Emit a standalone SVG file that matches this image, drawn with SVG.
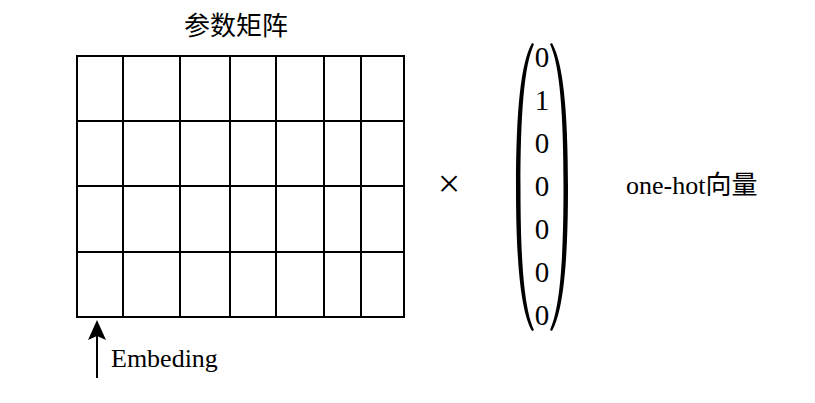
<svg xmlns="http://www.w3.org/2000/svg" width="815" height="403" viewBox="0 0 815 403">
<defs>
<style>
.t{font-family:"Liberation Serif","Noto Sans CJK SC",serif;font-size:26px;fill:#000}
.g{stroke:#000;stroke-width:2;fill:none}
.p{fill:#000;stroke:none}
</style>
<marker id="ah" viewBox="0 0 20 20" refX="18" refY="10" markerWidth="20" markerHeight="20" markerUnits="userSpaceOnUse" orient="auto">
<path d="M0,1 L20,10 L0,19 L4,10 Z" fill="#000"/>
</marker>
</defs>
<rect width="815" height="403" fill="#fff"/>
<g id="title"><text class="t" x="236" y="35" text-anchor="middle">参数矩阵</text></g>
<g id="matrix">
<rect class="g" x="77" y="56" width="327" height="261"/>
<path class="g" d="M123,56V317M180,56V317M230,56V317M276,56V317M324,56V317M361,56V317M77,121H404M77,186H404M77,252H404"/>
</g>
<g id="times"><text class="t" x="449" y="197" text-anchor="middle" style="font-size:40px">×</text></g>
<g id="vector">
<path class="p" d="M532,43 C521,62 516,110 516,187 C516,264 521,312 532,331 L534,330 C524,308 520.5,260 520.5,187 C520.5,114 524,66 534,44 Z"/>
<path class="p" d="M552,43 C563,62 568,110 568,187 C568,264 563,312 552,331 L550,330 C560,308 563.5,260 563.5,187 C563.5,114 560,66 550,44 Z"/>
<g class="t" style="font-size:29px" text-anchor="middle">
<text x="542" y="67">0</text>
<text x="542" y="110">1</text>
<text x="542" y="153">0</text>
<text x="542" y="196">0</text>
<text x="542" y="239">0</text>
<text x="542" y="282">0</text>
<text x="542" y="325">0</text>
</g>
</g>
<g id="label"><text class="t" x="626" y="194">one-hot向量</text></g>
<g id="connectors">
<line class="g" x1="97" y1="378" x2="97" y2="322" marker-end="url(#ah)"/>
</g>
<g id="embed"><text class="t" x="111" y="367">Embeding</text></g>
</svg>
